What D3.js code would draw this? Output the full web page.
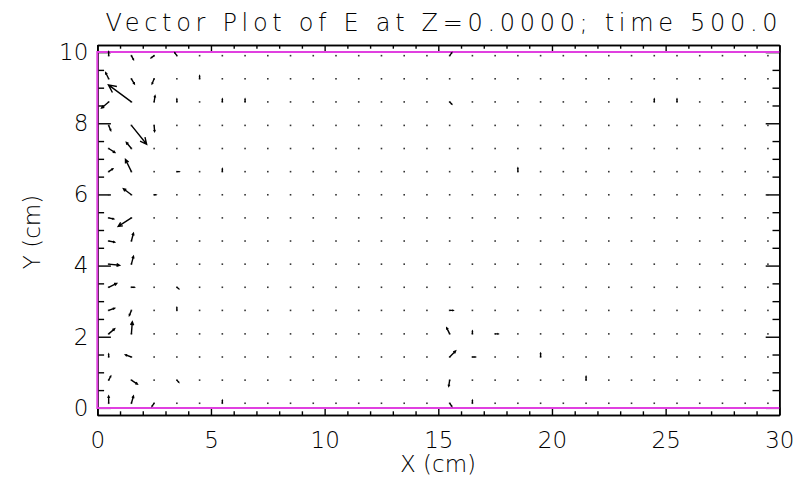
<!DOCTYPE html>
<html>
<head>
<meta charset="utf-8">
<script src="https://cdn.jsdelivr.net/npm/d3@7"></script>
<style>
body { margin: 0; background: #fff; }
text { font-family: "DejaVu Sans", sans-serif; font-weight: 200; fill: #000; }
</style>
</head>
<body>
<script>
var title = "Vector Plot of E at Z=0.0000; time 500.0";
var xTicks = [0, 5, 10, 15, 20, 25, 30];
var yTicks = [0, 2, 4, 6, 8, 10];
var xLocs = [0.5, 1.5, 2.5, 3.5, 4.5, 5.5, 6.5, 7.5, 8.5, 9.5, 10.5, 11.5, 12.5, 13.5, 14.5,
  15.5, 16.5, 17.5, 18.5, 19.5, 20.5, 21.5, 22.5, 23.5, 24.5, 25.5, 26.5, 27.5, 28.5, 29.5];
var yLocs = [0.13, 0.78, 1.43, 2.08, 2.74, 3.39, 4.04, 4.69, 5.34, 5.99, 6.64, 7.29, 7.94, 8.60, 9.25, 9.90];
var boundX = [0, 30];
var boundY = [0, 10];
// non-zero field vectors: [x, y, Ex, Ey] (data units)
var vectors = [
  [0.5, 9.90, 0.00, 0.11], [1.5, 9.90, 0.09, -0.11], [2.5, 9.90, -0.13, -0.06],
  [3.5, 9.90, -0.09, 0.08], [15.5, 9.90, 0.09, 0.08],
  [0.5, 9.25, -0.13, 0.17], [1.5, 9.25, 0.13, -0.14], [2.5, 9.25, -0.09, -0.14], [4.5, 9.25, 0.00, 0.08],
  [0.5, 8.60, -0.31, -0.17], [1.5, 8.60, -1.01, 0.48], [2.5, 8.60, 0.04, 0.17], [3.5, 8.60, 0.00, 0.08],
  [5.5, 8.60, 0.00, 0.08], [6.5, 8.60, 0.00, 0.08], [15.5, 8.60, 0.09, -0.06],
  [24.5, 8.60, 0.00, 0.08], [25.5, 8.60, 0.00, 0.08],
  [0.5, 7.94, 0.09, -0.14], [1.5, 7.94, 0.67, -0.53], [2.5, 7.94, 0.02, -0.17],
  [0.5, 7.29, 0.27, -0.11], [1.5, 7.29, -0.22, 0.17],
  [0.5, 6.64, 0.18, 0.08], [1.5, 6.64, -0.26, 0.34], [3.5, 6.64, 0.10, 0.00],
  [5.5, 6.64, 0.00, 0.08], [18.5, 6.64, 0.00, 0.10],
  [1.5, 5.99, -0.35, 0.17], [2.5, 5.99, 0.08, 0.00],
  [0.5, 5.34, 0.22, -0.03], [1.5, 5.34, -0.58, -0.24],
  [0.5, 4.69, 0.26, -0.03], [1.5, 4.69, 0.09, 0.22],
  [0.5, 4.04, 0.48, -0.03], [1.5, 4.04, 0.09, 0.22],
  [0.5, 3.39, 0.35, 0.11], [1.5, 3.39, 0.13, 0.00], [3.5, 3.39, 0.08, -0.04],
  [0.5, 2.74, 0.26, 0.06], [1.5, 2.74, -0.09, -0.14], [3.5, 2.74, 0.00, 0.08], [15.5, 2.74, 0.15, 0.00],
  [0.5, 2.08, 0.26, 0.14], [1.5, 2.08, 0.04, 0.34], [15.5, 2.08, -0.13, 0.17],
  [16.5, 2.08, 0.00, 0.08], [17.5, 2.08, 0.13, 0.00],
  [0.5, 1.43, 0.00, 0.08], [1.5, 1.43, -0.26, 0.06], [15.5, 1.43, 0.26, 0.17],
  [16.5, 1.43, 0.13, 0.00], [19.5, 1.43, 0.00, 0.10],
  [0.5, 0.78, 0.09, 0.11], [1.5, 0.78, 0.26, -0.11], [3.5, 0.78, 0.08, -0.06],
  [15.5, 0.78, -0.04, -0.17], [21.5, 0.78, 0.00, 0.10],
  [0.5, 0.13, 0.00, 0.20], [1.5, 0.13, 0.09, 0.20], [2.5, 0.13, -0.09, -0.08],
  [5.5, 0.13, 0.00, 0.08], [15.5, 0.13, 0.09, -0.08], [16.5, 0.13, 0.00, 0.08]
];

var width = 805, height = 480;
var xMajor = 7.4, xMinor = 3.7, yMajor = 13.6, yMinor = 6.8;

var svg = d3.select("body").append("svg")
    .attr("width", width)
    .attr("height", height);

var x = d3.scaleLinear().domain([0, 30]).range([97.3, 779.3]);
var y = d3.scaleLinear().domain([-0.2, 10.2]).range([415, 45]);

var xMinorVals = d3.range(0, 31).filter(function(d) { return d % 5; });
var yMinorVals = d3.range(0, 10.01, 0.5).filter(function(d) { return d % 2; });

function styleAxis(g, labels) {
  g.attr("font-family", null).attr("font-size", 23);
  g.select(".domain").attr("stroke", "#000").attr("stroke-width", 1.6);
  g.selectAll(".tick line").attr("stroke", "#000").attr("stroke-width", 1.4);
  if (!labels) g.selectAll(".tick text").remove();
}

// bottom
svg.append("g").attr("transform", "translate(0,415)")
    .call(d3.axisBottom(x).tickValues(xTicks).tickSize(-xMajor).tickSizeOuter(0)
      .tickPadding(17).tickFormat(d3.format("d")))
    .call(styleAxis, true);
svg.append("g").attr("transform", "translate(0,415)")
    .call(d3.axisBottom(x).tickValues(xMinorVals).tickSize(-xMinor).tickSizeOuter(0))
    .call(styleAxis, false);
// top
svg.append("g").attr("transform", "translate(0,45)")
    .call(d3.axisTop(x).tickValues(xTicks).tickSize(-xMajor).tickSizeOuter(0))
    .call(styleAxis, false);
svg.append("g").attr("transform", "translate(0,45)")
    .call(d3.axisTop(x).tickValues(xMinorVals).tickSize(-xMinor).tickSizeOuter(0))
    .call(styleAxis, false);
// left
svg.append("g").attr("transform", "translate(97.3,0)")
    .call(d3.axisLeft(y).tickValues(yTicks).tickSize(-yMajor).tickSizeOuter(0)
      .tickPadding(9).tickFormat(d3.format("d")))
    .call(styleAxis, true);
svg.append("g").attr("transform", "translate(97.3,0)")
    .call(d3.axisLeft(y).tickValues(yMinorVals).tickSize(-yMinor).tickSizeOuter(0))
    .call(styleAxis, false);
// right
svg.append("g").attr("transform", "translate(779.3,0)")
    .call(d3.axisRight(y).tickValues(yTicks).tickSize(-yMajor).tickSizeOuter(0))
    .call(styleAxis, false);
svg.append("g").attr("transform", "translate(779.3,0)")
    .call(d3.axisRight(y).tickValues(yMinorVals).tickSize(-yMinor).tickSizeOuter(0))
    .call(styleAxis, false);

// boundary in magenta
svg.append("path")
    .attr("d", "M" + x(boundX[1]) + "," + y(boundY[1]) + "H" + x(boundX[0]) +
      "V" + y(boundY[0]) + "H" + x(boundX[1]))
    .attr("fill", "none")
    .attr("stroke", "#e040e0")
    .attr("stroke-width", 2);

// grid points
svg.append("g").selectAll("rect")
    .data(d3.cross(xLocs, yLocs))
    .enter().append("rect")
    .attr("x", function(d) { return x(d[0]) - 0.8; })
    .attr("y", function(d) { return y(d[1]) - 0.8; })
    .attr("width", 1.6)
    .attr("height", 1.6)
    .attr("fill", "#333");

// vectors
var headFrac = 0.3, headAng = Math.PI / 7;
svg.append("g")
    .attr("fill", "none")
    .attr("stroke", "#000")
    .attr("stroke-width", 1.4)
    .selectAll("path")
    .data(vectors)
    .enter().append("path")
    .attr("d", function(d) {
      var x0 = x(d[0]), y0 = y(d[1]);
      var x1 = x(d[0] + d[2]), y1 = y(d[1] + d[3]);
      var a = Math.atan2(y1 - y0, x1 - x0);
      var h = Math.hypot(x1 - x0, y1 - y0) * headFrac;
      var hx1 = x1 - h * Math.cos(a - headAng), hy1 = y1 - h * Math.sin(a - headAng);
      var hx2 = x1 - h * Math.cos(a + headAng), hy2 = y1 - h * Math.sin(a + headAng);
      return "M" + x0 + "," + y0 + "L" + x1 + "," + y1 +
        "M" + hx1 + "," + hy1 + "L" + x1 + "," + y1 + "L" + hx2 + "," + hy2;
    });

// titles
svg.append("text")
    .attr("x", 441.5)
    .attr("y", 31)
    .attr("text-anchor", "middle")
    .attr("font-size", 24)
    .attr("textLength", 672)
    .attr("lengthAdjust", "spacing")
    .text(title);

svg.append("text")
    .attr("x", 438)
    .attr("y", 472)
    .attr("text-anchor", "middle")
    .attr("font-size", 23)
    .text("X (cm)");

svg.append("text")
    .attr("transform", "translate(40,232)rotate(-90)")
    .attr("text-anchor", "middle")
    .attr("font-size", 23)
    .text("Y (cm)");
</script>
</body>
</html>
